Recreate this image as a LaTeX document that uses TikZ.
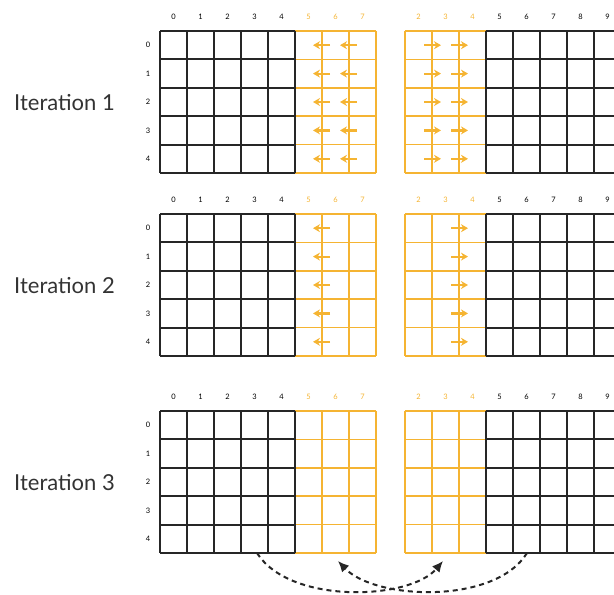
\documentclass[tikz,border=0pt]{standalone}
\usepackage{fontspec}
\setmainfont{Lato}
\usetikzlibrary{arrows.meta}
\definecolor{halo}{RGB}{245,180,50}
\tikzstyle{ownedcells} = [black!85, line width=2pt]
\tikzstyle{halocells} = [halo, line width=1.6pt]
\tikzstyle{idx} = [font=\fontsize{7.5}{8}\selectfont, inner sep=0pt]
\tikzstyle{haloidx} = [idx, text=halo]
\tikzstyle{iterlabel} = [font=\fontsize{22}{24}\selectfont, text=black!80, anchor=west, inner sep=0pt]
\tikzstyle{haloarrow} = [halo, line width=2.2pt, -{Stealth[length=7pt,width=8pt]}]
\tikzstyle{exchange} = [black!85, line width=2pt, dash pattern=on 5pt off 4pt, -{Latex[length=11pt,width=10pt]}]

\begin{document}
\begin{tikzpicture}[x=1pt,y=-1pt]
    \useasboundingbox (0,0) rectangle (614,595);
    \clip (0,0) rectangle (614,595);

    \foreach \T/\n in {31/1,214/2,411/3}{
        % iteration label
        \node (iter\n) [iterlabel] at (14,\T+72) {Iteration \n};
        % halo blocks (orange)
        \foreach \c in {1,2,3} \draw[halocells] (295+27*\c,\T) -- ++(0,142);
        \foreach \r in {0,...,5} \draw[halocells] (295,\T+28.4*\r) -- (376,\T+28.4*\r);
        \foreach \c in {0,1,2} \draw[halocells] (405+27*\c,\T) -- ++(0,142);
        \foreach \r in {0,...,5} \draw[halocells] (405,\T+28.4*\r) -- (486,\T+28.4*\r);
        % owned blocks (black)
        \foreach \c in {0,...,5} \draw[ownedcells] (160+27*\c,\T) -- ++(0,142);
        \foreach \r in {0,...,5} \draw[ownedcells] (160,\T+28.4*\r) -- (295,\T+28.4*\r);
        \foreach \c in {0,...,5} \draw[ownedcells] (486+27*\c,\T) -- ++(0,142);
        \foreach \r in {0,...,5} \draw[ownedcells] (486,\T+28.4*\r) -- (621,\T+28.4*\r);
        % row and column indices
        \foreach \r in {0,...,4} \node (row\n-\r) [idx] at (148,\T+14.2+28.4*\r) {\r};
        \foreach \c in {0,...,4} \node (lcol\n-\c) [idx] at (173.5+27*\c,\T-14) {\c};
        \foreach \c [count=\i from 0] in {5,6,7} \node (lhal\n-\c) [haloidx] at (308.5+27*\i,\T-14) {\c};
        \foreach \c [count=\i from 0] in {2,3,4} \node (rhal\n-\c) [haloidx] at (418.5+27*\i,\T-14) {\c};
        \foreach \c [count=\i from 0] in {5,...,9} \node (rcol\n-\c) [idx] at (499.5+27*\i,\T-14) {\c};
    }

    % iteration 1: two halo columns shifted
    \foreach \r in {0,...,4}{
        \draw[haloarrow] (330,31+14.2+28.4*\r) -- (313,31+14.2+28.4*\r);
        \draw[haloarrow] (357,31+14.2+28.4*\r) -- (340,31+14.2+28.4*\r);
        \draw[haloarrow] (424,31+14.2+28.4*\r) -- (441,31+14.2+28.4*\r);
        \draw[haloarrow] (451,31+14.2+28.4*\r) -- (468,31+14.2+28.4*\r);
    }
    % iteration 2: one halo column shifted
    \foreach \r in {0,...,4}{
        \draw[haloarrow] (330,214+14.2+28.4*\r) -- (313,214+14.2+28.4*\r);
        \draw[haloarrow] (451,214+14.2+28.4*\r) -- (468,214+14.2+28.4*\r);
    }

    % iteration 3: exchange between processes
    \coordinate (srcL) at (257,553);
    \coordinate (dstR) at (443,561);
    \coordinate (srcR) at (527,553);
    \coordinate (dstL) at (338,561);
    \draw[exchange] (srcL) .. controls (290,605) and (410,600) .. (dstR);
    \draw[exchange] (srcR) .. controls (495,605) and (375,600) .. (dstL);
\end{tikzpicture}
\end{document}
